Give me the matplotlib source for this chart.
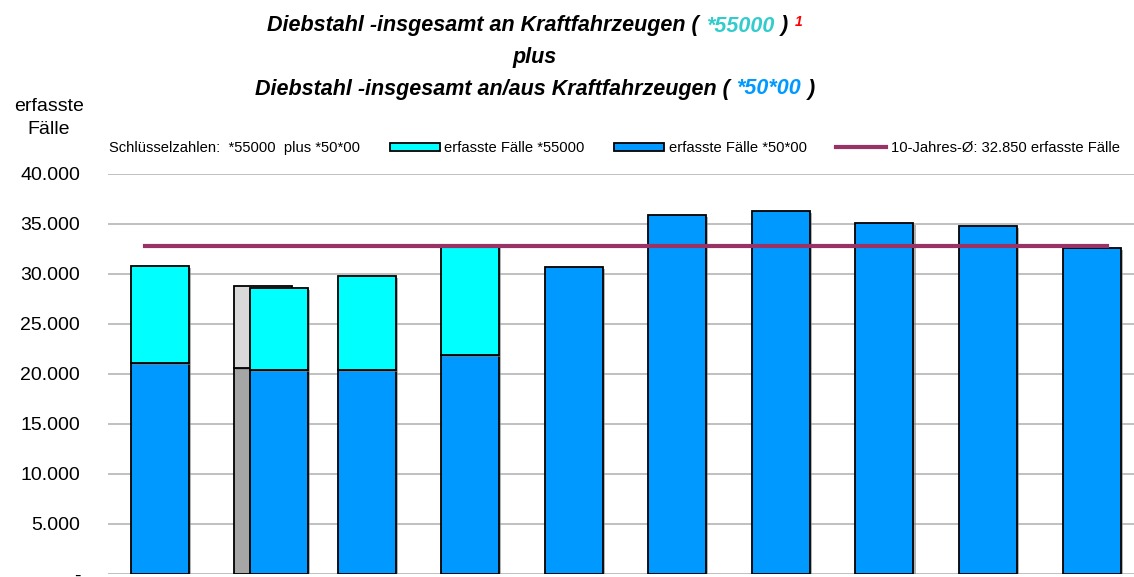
import matplotlib.pyplot as plt
import matplotlib.patheffects as pe
import numpy as np
from matplotlib.patches import Patch
from matplotlib.lines import Line2D
from matplotlib.offsetbox import TextArea, HPacker, AnnotationBbox

plt.rcParams['font.family'] = ['Liberation Sans', 'DejaVu Sans']

# Data
n_years = 10
faelle_5000 = [21100, 20400, 20400, 21900, 30750, 35950, 36300, 35150, 34800, 32650]   # *50*00
faelle_55000 = [9700, 8230, 9400, 11000, 0, 0, 0, 0, 0, 0]                             # *55000
vergleich_unten = [20600]   # grey comparison bar in year 2
vergleich_oben = [8230]
vergleich_idx = [1]
avg_10 = 32850
ticks = [0, 5000, 10000, 15000, 20000, 25000, 30000, 35000, 40000]

c_cyan = '#00FFFF'
c_blue = '#0099FF'
c_line = '#993366'
shadow = [pe.SimplePatchShadow(offset=(1.5, -1.5), shadow_rgbFace='#808080', alpha=0.6), pe.Normal()]

fig = plt.figure(figsize=(11.34, 5.77), dpi=100)
ax = fig.add_axes([108 / 1134, 3 / 577, 1 - 108 / 1134, 400 / 577])

x = np.arange(n_years, dtype=float)
width = 0.56
xpos = x.copy()
xpos[vergleich_idx] += 0.15

# grey comparison bar behind
vx = x[vergleich_idx]
ax.bar(vx, vergleich_unten, width, color='#A6A6A6', edgecolor='black', linewidth=1.3, zorder=2,
       path_effects=shadow)
ax.bar(vx, vergleich_oben, width, bottom=vergleich_unten, color='#D9D9D9', edgecolor='black',
       linewidth=1.3, zorder=2, path_effects=shadow)

ax.bar(xpos, faelle_5000, width, color=c_blue, edgecolor='black', linewidth=1.3, zorder=3,
       path_effects=shadow)
top = np.array(faelle_55000)
m = top > 0
ax.bar(xpos[m], top[m], width, bottom=np.array(faelle_5000)[m], color=c_cyan, edgecolor='black',
       linewidth=1.3, zorder=3, path_effects=shadow)

ax.plot([x[0] - 0.145, x[-1] + 0.15], [avg_10, avg_10], color=c_line, lw=3, zorder=4)

ax.set_xlim(-0.5, 9.41)
ax.set_ylim(0, 40000)
ax.set_yticks(ticks)
ax.set_yticklabels(['-' if t == 0 else f'{t:,}'.replace(',', '.') for t in ticks], fontsize=14)
ax.tick_params(axis='y', length=0, pad=20)
ax.set_xticks([])
ax.yaxis.grid(True, color='#C0C0C0', linewidth=1.4, zorder=0)
ax.set_axisbelow(True)
for s in ax.spines.values():
    s.set_visible(False)

# legend
handles = [Patch(visible=False),
           Patch(facecolor=c_cyan, edgecolor='black', linewidth=1.3),
           Patch(facecolor=c_blue, edgecolor='black', linewidth=1.3),
           Line2D([], [], color=c_line, lw=3)]
labels = ['Schlüsselzahlen:  *55000  plus *50*00', 'erfasste Fälle *55000',
          'erfasste Fälle *50*00', '10-Jahres-Ø: 32.850 erfasste Fälle']
fig.legend(handles, labels, loc='center left', bbox_to_anchor=(55 / 1134, 1 - 148 / 577), ncol=4,
           frameon=False, fontsize=10.6, handlelength=3.4, handleheight=0.5, handletextpad=0.3,
           columnspacing=2.0, borderpad=0, borderaxespad=0)

# y label
fig.text(49 / 1134, 1 - 118 / 577, 'erfasste\nFälle', ha='center', va='center', fontsize=14,
         linespacing=1.4)

# title
tp = dict(fontsize=15.5, fontweight='bold', fontstyle='italic')


def title_line(parts, y):
    boxes = [TextArea(t, textprops=dict(tp, color=c, fontsize=fs)) for t, c, fs in parts]
    pack = HPacker(children=boxes, pad=0, sep=5, align='top')
    ab = AnnotationBbox(pack, (535 / 1134, 1 - y / 577), xycoords='figure fraction',
                        box_alignment=(0.5, 0.5), frameon=False)
    fig.add_artist(ab)


title_line([('Diebstahl -insgesamt an Kraftfahrzeugen (', 'black', 15.5), ('*55000', '#33CCCC', 15.5),
            (')', 'black', 15.5), ('1', 'red', 10)], 26)
title_line([('plus', 'black', 15.5)], 57)
title_line([('Diebstahl -insgesamt an/aus Kraftfahrzeugen (', 'black', 15.5), ('*50*00', c_blue, 15.5),
            (')', 'black', 15.5)], 89)

fig.savefig('out.png', dpi=100)
